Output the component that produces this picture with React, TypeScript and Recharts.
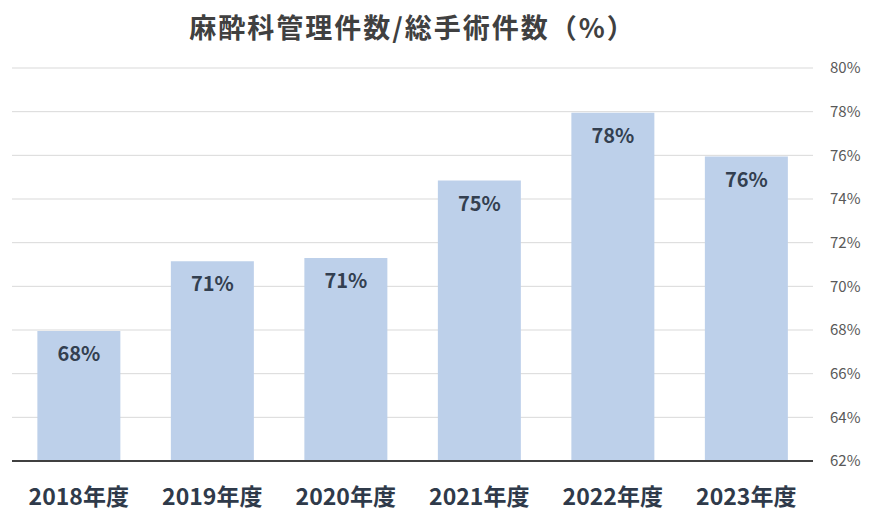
import React from 'react';
import { BarChart, Bar, XAxis, YAxis, CartesianGrid, LabelList } from 'recharts';

const years = ['2018年度', '2019年度', '2020年度', '2021年度', '2022年度', '2023年度'];
const ratios = [67.95, 71.15, 71.3, 74.85, 77.95, 75.95];
const yTicks = [62, 64, 66, 68, 70, 72, 74, 76, 78, 80];

const data = years.map((year, i) => ({ year, ratio: ratios[i] }));

const font = '"Noto Sans CJK JP", "Noto Sans", sans-serif';

const App: React.FC = () => {
  return (
    <div style={{ position: 'absolute', left: 0, top: 0, width: 876, height: 526, background: '#fff', fontFamily: font }}>
      <div
        style={{
          position: 'absolute',
          top: 7,
          left: 12,
          width: 801,
          textAlign: 'center',
          fontSize: 27,
          fontWeight: 700,
          letterSpacing: 2,
          color: '#404040',
          lineHeight: '40px',
        }}
      >
        麻酔科管理件数/総手術件数（%）
      </div>
      <BarChart
        width={876}
        height={526}
        data={data}
        margin={{ top: 68, right: 0, left: 12, bottom: 0 }}
        barCategoryGap="19%"
      >
        <CartesianGrid horizontal vertical={false} stroke="#d9d9d9" strokeWidth={1} />
        <XAxis
          dataKey="year"
          height={65}
          tickLine={false}
          tickSize={0}
          tickMargin={28}
          axisLine={{ stroke: '#404040', strokeWidth: 2 }}
          tick={{ fill: '#2f3a4a', fontSize: 23, fontWeight: 700, fontFamily: font }}
        />
        <YAxis
          orientation="right"
          width={63}
          domain={[62, 80]}
          ticks={yTicks}
          interval={0}
          axisLine={false}
          tickLine={false}
          tickSize={0}
          tickMargin={17}
          tickFormatter={(v: number) => `${v}%`}
          tick={{ fill: '#595959', fontSize: 15, fontFamily: font, textAnchor: 'start' }}
        />
        <Bar dataKey="ratio" fill="#bdd0ea" isAnimationActive={false}>
          <LabelList
            dataKey="ratio"
            position="insideTop"
            offset={16}
            formatter={(v: number) => `${Math.round(v)}%`}
            style={{ fill: '#333f50', fontSize: 20, fontWeight: 700, fontFamily: font }}
          />
        </Bar>
      </BarChart>
    </div>
  );
};

export default App;
